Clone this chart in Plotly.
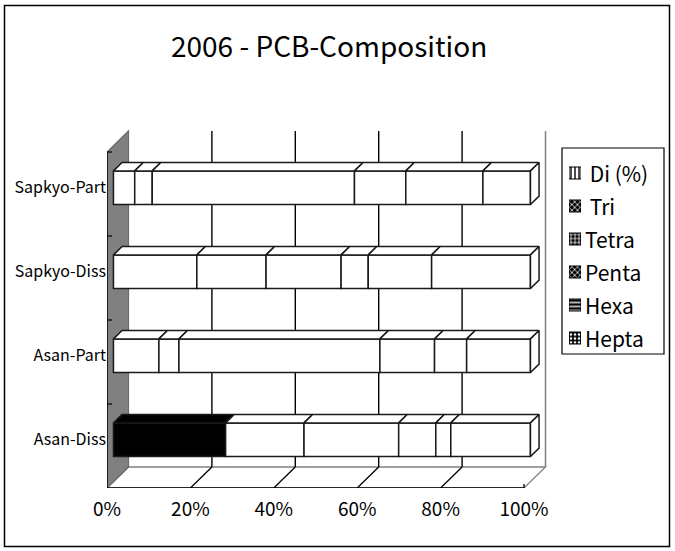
import plotly.graph_objects as go

W, H = 675, 551

# ---- data -----------------------------------------------------------------
categories = ["Asan-Diss", "Asan-Part", "Sapkyo-Diss", "Sapkyo-Part"]
series_names = ["Di (%)", "Tri", "Tetra", "Penta", "Hexa", "Hepta"]
di    = [26.9, 10.9, 20.0, 5.1]
tri   = [18.8, 4.8, 16.6, 4.2]
tetra = [22.7, 48.2, 18.0, 48.5]
penta = [8.9, 13.1, 6.5, 12.3]
hexa  = [3.6, 7.7, 15.2, 18.5]
hepta = [19.1, 15.3, 23.7, 11.4]
x_ticks = [0, 20, 40, 60, 80, 100]
x_tick_labels = [f"{v}%" for v in x_ticks]

series_values = [di, tri, tetra, penta, hexa, hepta]

# ---- styling ----------------------------------------------------------------
FONT = "Noto Sans CJK KR, Liberation Sans, sans-serif"
EDGE = "#1a1a1a"
GRAY = "#808080"
# segment filled solid black: (category, series)
solid_cells = {("Asan-Diss", "Di (%)")}
legend_patterns = [
    dict(shape="|", bgcolor="white", fgcolor="black"),
    dict(shape="x", bgcolor="black", fgcolor="white"),
    dict(shape="+", bgcolor="black", fgcolor="white"),
    dict(shape="x", bgcolor="black", fgcolor="white"),
    dict(shape="-", bgcolor="black", fgcolor="white"),
    dict(shape=".", bgcolor="black", fgcolor="white"),
]

# ---- 3-D projection geometry (oblique) --------------------------------------
PLOT_L, PLOT_R, PLOT_T, PLOT_B = 107, 560, 125, 488   # pixel box of main axes
PX_PER_PCT = 4.17
PX_PER_CAT = 84.0
DX = 21.5 / PX_PER_PCT      # full depth, x direction (percent units)
DY = 21.0 / PX_PER_CAT      # full depth, y direction (category units)
BAR_D0, BAR_D1 = 0.3, 0.7   # bar front/back as fraction of depth
BAR_HALF = 0.2              # half bar thickness (category units)

x_range = [0, (PLOT_R - PLOT_L) / PX_PER_PCT]
y_range = [-0.5, -0.5 + (PLOT_B - PLOT_T) / PX_PER_CAT]
y_top = len(categories) - 0.5


def fx(px):
    return px / W


def fy(py):
    return 1 - py / H


fig = go.Figure()

# front faces of the stacked segments
cum = [0.0] * len(categories)
starts = []
for name, vals in zip(series_names, series_values):
    starts.append(list(cum))
    colors = ["black" if (c, name) in solid_cells else "white" for c in categories]
    fig.add_trace(go.Bar(
        orientation="h",
        y=[k + DY * BAR_D0 for k in range(len(categories))],
        x=vals,
        base=[b + DX * BAR_D0 for b in cum],
        width=2 * BAR_HALF,
        marker=dict(color=colors, line=dict(color=EDGE, width=1.5)),
        name=name,
        showlegend=False,
        hoverinfo="skip",
    ))
    cum = [a + v for a, v in zip(cum, vals)]

# top faces of every segment and the right-hand end of each bar
for j, (name, vals) in enumerate(zip(series_names, series_values)):
    for k, cat in enumerate(categories):
        a = starts[j][k]
        b = a + vals[k]
        y0 = k + BAR_HALF + DY * BAR_D0
        y1 = k + BAR_HALF + DY * BAR_D1
        fill = "black" if (cat, name) in solid_cells else "white"
        fig.add_trace(go.Scatter(
            x=[a + DX * BAR_D0, b + DX * BAR_D0, b + DX * BAR_D1, a + DX * BAR_D1, a + DX * BAR_D0],
            y=[y0, y0, y1, y1, y0],
            mode="lines", fill="toself", fillcolor=fill,
            line=dict(color=EDGE, width=1.5),
            showlegend=False, hoverinfo="skip",
        ))
for k, cat in enumerate(categories):
    end = sum(v[k] for v in series_values)
    yb0 = k - BAR_HALF + DY * BAR_D0
    yt0 = k + BAR_HALF + DY * BAR_D0
    yb1 = k - BAR_HALF + DY * BAR_D1
    yt1 = k + BAR_HALF + DY * BAR_D1
    fig.add_trace(go.Scatter(
        x=[end + DX * BAR_D0, end + DX * BAR_D0, end + DX * BAR_D1, end + DX * BAR_D1, end + DX * BAR_D0],
        y=[yb0, yt0, yt1, yb1, yb0],
        mode="lines", fill="toself", fillcolor="white",
        line=dict(color=EDGE, width=1.5),
        showlegend=False, hoverinfo="skip",
    ))

# ---- walls, floor, gridlines (below the bars) --------------------------------
shapes = []
x_max = x_ticks[-1]
# back wall
shapes.append(dict(type="rect", xref="x", yref="y", layer="below",
                   x0=DX, x1=x_max + DX, y0=-0.5 + DY, y1=y_top + DY,
                   fillcolor="white", line=dict(width=0)))
# floor
shapes.append(dict(type="path", xref="x", yref="y", layer="below",
                   path=f"M0,-0.5 L{x_max},-0.5 L{x_max + DX},{-0.5 + DY} L{DX},{-0.5 + DY} Z",
                   fillcolor="white", line=dict(color=GRAY, width=1.3)))
# left side wall
shapes.append(dict(type="path", xref="x", yref="y", layer="below",
                   path=f"M0,-0.5 L0,{y_top} L{DX},{y_top + DY} L{DX},{-0.5 + DY} Z",
                   fillcolor=GRAY, line=dict(color="#6a6a6a", width=1.2)))
# right edge of the back wall
shapes.append(dict(type="line", xref="x", yref="y", layer="below",
                   x0=x_max + DX, x1=x_max + DX, y0=-0.5 + DY, y1=y_top + DY,
                   line=dict(color=GRAY, width=1.5)))
# vertical gridlines on the back wall and their floor diagonals
for t in x_ticks[1:-1]:
    shapes.append(dict(type="line", xref="x", yref="y", layer="below",
                       x0=t + DX, x1=t + DX, y0=-0.5 + DY, y1=y_top + DY,
                       line=dict(color="black", width=1.4)))
    shapes.append(dict(type="line", xref="x", yref="y", layer="below",
                       x0=t, x1=t + DX, y0=-0.5, y1=-0.5 + DY,
                       line=dict(color="black", width=1.3)))
# front axis lines
shapes.append(dict(type="line", xref="x", yref="y", layer="below",
                   x0=0, x1=x_max, y0=-0.5, y1=-0.5,
                   line=dict(color="black", width=1.5)))
shapes.append(dict(type="line", xref="x", yref="y", layer="below",
                   x0=0, x1=0, y0=-0.5, y1=y_top,
                   line=dict(color="black", width=1.5)))
shapes.append(dict(type="line", xref="x", yref="y", layer="below",
                   x0=x_max, x1=x_max, y0=-0.5, y1=-0.5 + 4 / PX_PER_CAT,
                   line=dict(color="black", width=1.3)))
# category tick marks
for k in range(len(categories)):
    shapes.append(dict(type="line", xref="x", yref="y", layer="below",
                       x0=0, x1=5 / PX_PER_PCT, y0=k + 0.5, y1=k + 0.5,
                       line=dict(color="black", width=1.2)))

# legend box and outer border
LEG_L, LEG_R, LEG_T, LEG_B = 562, 664, 148, 354
shapes.append(dict(type="rect", xref="paper", yref="paper",
                   x0=fx(LEG_L), x1=fx(LEG_R), y0=fy(LEG_B), y1=fy(LEG_T),
                   line=dict(color="black", width=1.2), fillcolor="rgba(0,0,0,0)"))
shapes.append(dict(type="rect", xref="paper", yref="paper",
                   x0=fx(4.5), x1=fx(669.5), y0=fy(546.5), y1=fy(5.5),
                   line=dict(color="black", width=1.5), fillcolor="rgba(0,0,0,0)"))

# ---- legend: patterned swatches on their own small axes ----------------------
ROW_FIRST, ROW_STEP = 173, 33          # pixel centre of first row, row pitch
SW_L, SW_R, SW_H = 569, 581, 12
n_rows = len(series_names)
for i, (name, pat) in enumerate(zip(series_names, legend_patterns)):
    fig.add_trace(go.Bar(
        orientation="h", y=[i], x=[1], width=SW_H / ROW_STEP,
        marker=dict(color=pat["bgcolor"], line=dict(color="black", width=1),
                    pattern=dict(shape=pat["shape"], bgcolor=pat["bgcolor"],
                                 fgcolor=pat["fgcolor"], size=4, solidity=0.35,
                                 fillmode="replace")),
        xaxis="x2", yaxis="y2", showlegend=False, hoverinfo="skip",
    ))

annotations = []
for i, name in enumerate(series_names):
    label = ("\u00a0" + name) if i < 2 else name
    annotations.append(dict(
        x=fx(SW_R + 2), y=fy(ROW_FIRST + ROW_STEP * i), xref="paper", yref="paper",
        text=label, showarrow=False, xanchor="left", yanchor="middle",
        font=dict(family=FONT, size=21, color="black"),
    ))
annotations.append(dict(
    x=fx(329), y=fy(45), xref="paper", yref="paper",
    text="2006 - PCB-Composition", showarrow=False,
    xanchor="center", yanchor="middle",
    font=dict(family=FONT, size=28, color="black"),
))

fig.update_layout(
    width=W, height=H,
    margin=dict(l=0, r=0, t=0, b=0),
    paper_bgcolor="white", plot_bgcolor="rgba(0,0,0,0)",
    barmode="overlay",
    showlegend=False,
    shapes=shapes,
    annotations=annotations,
    xaxis=dict(domain=[fx(PLOT_L), fx(PLOT_R)], range=x_range, automargin=False,
               tickvals=x_ticks, ticktext=x_tick_labels, ticks="",
               ticklabelstandoff=8,
               showgrid=False, zeroline=False, showline=False,
               tickfont=dict(family=FONT, size=19, color="black")),
    yaxis=dict(domain=[fy(PLOT_B), fy(PLOT_T)], range=y_range, automargin=False,
               tickvals=[k + DY * BAR_D0 for k in range(len(categories))],
               ticktext=categories, ticks="",
               showgrid=False, zeroline=False, showline=False,
               tickfont=dict(family=FONT, size=16, color="black")),
    xaxis2=dict(domain=[fx(SW_L), fx(SW_R)], range=[0, 1], visible=False,
                fixedrange=True, automargin=False),
    yaxis2=dict(domain=[fy(ROW_FIRST + ROW_STEP * (n_rows - 0.5)),
                        fy(ROW_FIRST - ROW_STEP * 0.5)],
                range=[n_rows - 0.5, -0.5],
                visible=False, fixedrange=True, automargin=False),
)

fig.write_html("out.html")
